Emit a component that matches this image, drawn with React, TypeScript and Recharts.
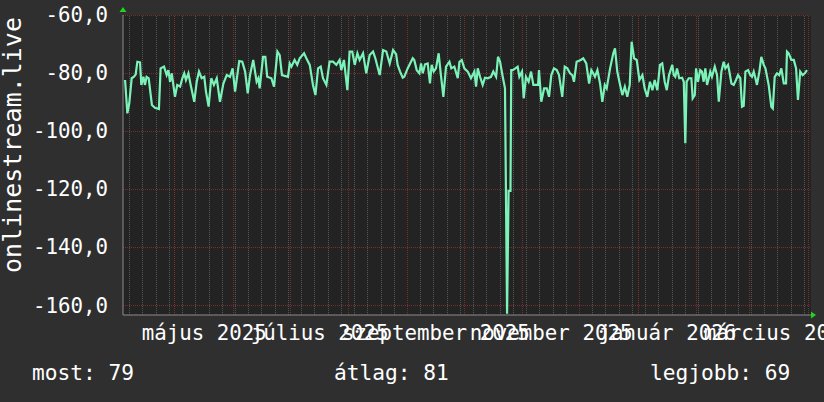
import { LineChart, Line, XAxis, YAxis, ReferenceLine, ReferenceArea, ReferenceDot } from "recharts";

const FONT = "'DejaVu Sans Mono', monospace";
const DAY_MS = 86400000;
// left edge of the plot, everything on the x axis is counted in days from here
const START = Date.UTC(2025, 3, 3, 12);
const SPAN = 364;

const yTicks = [-160, -140, -120, -100, -80, -60];
const yRange = [-163.4, -60];

const labelMonths: [number, number, string][] = [
  [2025, 4, "május 2025"],
  [2025, 6, "július 2025"],
  [2025, 8, "szeptember 2025"],
  [2025, 10, "november 2025"],
  [2026, 0, "január 2026"],
  [2026, 2, "március 2026"],
];

const legendItems = ["most: 79", "átlag: 81", "legjobb: 69"];

// [days since START, dBm]
const samples: [number, number][] = [
  [1.1, -82.4], [2.3, -93.9], [3.3, -90.5], [4.6, -81.8], [5.8, -81.3], [6.7, -80.5], [7.6, -76.1], [9.0, -76.3],
  [9.7, -84.1], [10.8, -81.3], [11.6, -84.1], [12.5, -81.3], [13.6, -81.8], [15.3, -91.0], [16.9, -92.0], [19.0, -92.4],
  [19.9, -78.4], [21.7, -77.8], [23.1, -80.7], [24.0, -79.0], [24.9, -83.0], [25.8, -80.1], [27.5, -88.2], [28.7, -84.1],
  [30.2, -84.7], [31.4, -81.8], [32.4, -80.1], [33.3, -82.4], [34.6, -80.1], [35.8, -84.1], [37.7, -89.9], [39.0, -83.0],
  [40.2, -79.5], [41.6, -81.8], [43.0, -81.3], [43.9, -86.4], [45.3, -91.6], [46.7, -81.8], [48.1, -84.1], [49.6, -81.8],
  [51.3, -89.9], [53.1, -83.6], [54.9, -80.7], [56.6, -81.3], [58.0, -78.4], [59.3, -86.4], [61.5, -75.9], [63.1, -76.1],
  [64.6, -79.5], [66.0, -87.0], [67.2, -80.7], [68.9, -75.5], [70.7, -83.0], [71.6, -81.8], [72.3, -85.3], [74.1, -74.4],
  [75.3, -74.4], [76.3, -81.3], [78.5, -81.8], [79.9, -84.7], [81.7, -72.6], [82.9, -73.8], [84.1, -80.7], [87.3, -81.3],
  [88.2, -76.7], [89.1, -77.8], [90.8, -75.5], [92.2, -77.2], [93.5, -74.9], [95.8, -73.2], [97.0, -74.9], [98.8, -77.2],
  [100.5, -84.1], [101.8, -87.6], [103.2, -78.4], [104.6, -77.8], [105.8, -81.8], [107.6, -84.1], [109.3, -76.1], [111.1, -76.1],
  [112.9, -77.2], [114.6, -75.5], [115.5, -79.0], [116.9, -75.5], [118.7, -85.9], [119.9, -72.6], [121.3, -72.6], [122.6, -77.2],
  [124.0, -73.2], [125.2, -75.5], [127.0, -73.2], [128.7, -80.1], [130.5, -73.8], [132.3, -72.6], [133.5, -74.9], [135.8, -80.7],
  [137.6, -72.1], [139.3, -72.6], [141.1, -76.7], [142.9, -72.1], [144.5, -73.5], [145.3, -77.2], [146.6, -79.5], [148.0, -81.6],
  [148.8, -81.3], [150.6, -78.4], [153.3, -74.9], [154.1, -75.5], [155.4, -79.0], [156.8, -80.1], [157.7, -76.7], [158.6, -80.1],
  [159.8, -77.0], [161.2, -76.7], [162.4, -83.6], [163.3, -77.2], [164.4, -79.5], [165.6, -78.4], [167.0, -73.2], [168.1, -80.1],
  [169.5, -88.2], [170.9, -77.8], [172.7, -76.1], [173.7, -78.4], [175.3, -77.8], [177.1, -81.8], [178.0, -76.1], [179.2, -75.5],
  [180.6, -78.4], [182.4, -79.5], [184.1, -81.8], [185.9, -79.5], [186.8, -84.7], [187.7, -78.4], [188.9, -81.3], [190.3, -84.1],
  [191.5, -81.6], [193.0, -81.8], [194.7, -81.3], [195.9, -79.5], [197.4, -81.3], [198.4, -74.4], [199.5, -76.1], [200.9, -81.3],
  [202.1, -85.3], [203.2, -163.0], [204.0, -120.6], [205.0, -120.6], [205.4, -79.0], [206.2, -79.0], [207.6, -78.4], [208.8, -77.8],
  [209.7, -81.3], [211.1, -79.5], [212.0, -88.7], [213.2, -81.3], [214.6, -83.0], [215.9, -79.5], [217.1, -84.1], [219.6, -84.1],
  [220.1, -79.0], [221.3, -89.9], [222.8, -85.3], [224.2, -85.3], [225.4, -88.2], [226.6, -80.7], [228.0, -78.4], [229.5, -79.0],
  [230.7, -80.7], [232.4, -88.2], [233.7, -77.8], [235.1, -78.4], [236.5, -80.1], [237.7, -80.7], [238.6, -83.0], [240.0, -76.1],
  [242.2, -75.5], [243.5, -74.9], [245.1, -76.7], [246.6, -83.6], [247.8, -79.0], [248.8, -80.1], [249.7, -81.3], [251.0, -79.0],
  [252.4, -83.6], [253.6, -89.9], [254.9, -84.1], [255.9, -85.3], [257.7, -78.4], [259.4, -73.2], [260.3, -71.5], [261.5, -79.5],
  [263.0, -84.1], [264.2, -87.6], [265.5, -84.7], [266.8, -88.2], [268.1, -84.1], [269.1, -69.2], [270.4, -74.9], [271.8, -75.5],
  [273.2, -82.4], [274.8, -80.7], [276.0, -85.3], [277.4, -88.2], [278.8, -83.0], [280.1, -85.9], [281.3, -82.4], [282.7, -85.9],
  [284.1, -77.2], [285.3, -76.7], [286.6, -83.0], [287.7, -85.9], [288.9, -80.7], [290.6, -77.2], [291.4, -80.7], [292.2, -81.3],
  [293.1, -78.4], [294.3, -81.8], [295.8, -81.6], [296.7, -83.0], [297.5, -104.2], [298.2, -83.0], [299.3, -81.8], [300.7, -81.8],
  [301.4, -88.7], [302.5, -87.6], [303.2, -78.4], [304.2, -83.0], [305.4, -79.0], [306.3, -79.5], [307.2, -83.0], [308.1, -78.4],
  [309.0, -84.1], [309.9, -81.8], [310.7, -79.5], [311.6, -81.3], [313.1, -77.8], [314.3, -80.7], [315.2, -89.9], [316.6, -79.5],
  [317.8, -76.1], [318.7, -78.4], [320.1, -77.2], [320.8, -79.5], [321.9, -83.6], [323.1, -84.1], [324.3, -82.4], [325.4, -80.7],
  [326.6, -81.8], [327.5, -91.6], [328.4, -91.3], [329.3, -79.5], [330.7, -79.0], [331.9, -80.7], [332.8, -81.3], [333.7, -79.5],
  [334.6, -81.8], [335.4, -84.1], [336.7, -79.5], [337.7, -74.4], [339.0, -77.2], [339.9, -78.4], [341.6, -84.1], [343.0, -91.6],
  [343.8, -92.2], [344.8, -81.3], [346.0, -80.1], [347.2, -80.7], [348.3, -78.4], [349.6, -83.6], [350.8, -83.6], [351.3, -72.6],
  [352.2, -73.2], [353.6, -75.5], [354.9, -75.5], [356.1, -78.4], [357.1, -89.3], [358.3, -79.5], [359.6, -80.7], [360.7, -80.1],
  [361.9, -79.0],
];

const data = samples.map(([day, dbm]) => ({ day, dbm }));

const dayOf = (y: number, m: number, d = 1) => (Date.UTC(y, m, d) - START) / DAY_MS;

const monthLines: number[] = [];
for (let i = 0; i < 12; i++) monthLines.push(dayOf(2025, 4 + i));
const weekLines: number[] = [];
for (let d = dayOf(2025, 3, 7); d < SPAN; d += 7) weekLines.push(d);
const minorY: number[] = [];
for (let v = -162; v > -60; v += 2) if (v % 20 !== 0) minorY.push(v);

const labelTicks = labelMonths.map(([y, m]) => (dayOf(y, m) + dayOf(y, m + 1)) / 2);
const labelText = (d: number) => labelMonths[labelTicks.indexOf(d)]?.[2] ?? "";

const MINOR = "#555555";
const MAJOR = "#743030";
const AXIS = "#8c8c8c";
const ARROW = "#1ed51e";
const LINE = "#7bf3b8";

const tickStyle = { fill: "#ffffff", fontSize: 20.8, fontFamily: FONT };

const AxisTitle = ({ viewBox }: any) => {
  const x = viewBox.x + 21;
  const y = viewBox.y + viewBox.height / 2 - 20;
  return (
    <text x={x} y={y} transform={`rotate(-90 ${x} ${y})`} textAnchor="middle" fill="#ffffff" fontSize={25} fontFamily={FONT}>
      onlinestream.live
    </text>
  );
};

const upArrow = ({ cx, cy }: any) => (
  <polygon points={`${cx - 3.5},${cy - 3} ${cx + 3.5},${cy - 3} ${cx},${cy - 8}`} fill={ARROW} />
);
const rightArrow = ({ cx, cy }: any) => (
  <polygon points={`${cx},${cy - 3.5} ${cx},${cy + 3.5} ${cx + 5},${cy}`} fill={ARROW} />
);

const grid = { strokeDasharray: "1 1", shapeRendering: "crispEdges" } as any;

export default function App() {
  return (
    <div style={{ position: "absolute", left: 0, top: 0, width: 824, height: 402, background: "#2f2f2f", overflow: "hidden" }}>
      <LineChart width={824} height={402} data={data} margin={{ top: 15, right: 13, bottom: 57, left: 0 }}>
        <XAxis
          dataKey="day"
          type="number"
          domain={[0, SPAN]}
          allowDataOverflow
          ticks={labelTicks}
          interval={0}
          tickFormatter={labelText}
          tick={tickStyle}
          tickLine={false}
          tickSize={6}
          tickMargin={4}
          axisLine={{ stroke: AXIS }}
          height={30}
        />
        <YAxis
          type="number"
          domain={yRange}
          allowDataOverflow
          ticks={yTicks}
          interval={0}
          tickFormatter={(v: number) => v.toFixed(1).replace(".", ",")}
          tick={tickStyle}
          tickLine={false}
          tickSize={6}
          tickMargin={9}
          axisLine={{ stroke: AXIS }}
          width={123}
          label={<AxisTitle />}
        />
        <ReferenceArea x1={0} x2={SPAN} y1={yRange[0]} y2={yRange[1]} fill="#232323" fillOpacity={1} stroke="none" />
        {minorY.map((v) => (
          <ReferenceLine key={`hy${v}`} y={v} stroke={MINOR} {...grid} />
        ))}
        {weekLines.map((d) => (
          <ReferenceLine key={`wx${d}`} x={d} stroke={MINOR} {...grid} />
        ))}
        {yTicks.map((v) => (
          <ReferenceLine key={`my${v}`} y={v} stroke={MAJOR} {...grid} />
        ))}
        {monthLines.map((d) => (
          <ReferenceLine key={`mx${d}`} x={d} stroke={MAJOR} {...grid} />
        ))}
        <Line type="linear" dataKey="dbm" stroke={LINE} strokeWidth={2.2} dot={false} isAnimationActive={false} />
        <ReferenceDot x={0} y={yRange[1]} r={0} shape={upArrow} />
        <ReferenceDot x={SPAN} y={yRange[0]} r={0} shape={rightArrow} />
      </LineChart>
      {legendItems.map((t, i) => (
        <span
          key={t}
          style={{
            position: "absolute",
            top: 361.4,
            left: [32, 334, 650][i],
            color: "#ffffff",
            fontFamily: FONT,
            fontSize: 21.2,
            lineHeight: "24px",
            whiteSpace: "pre",
          }}
        >
          {t}
        </span>
      ))}
    </div>
  );
}
